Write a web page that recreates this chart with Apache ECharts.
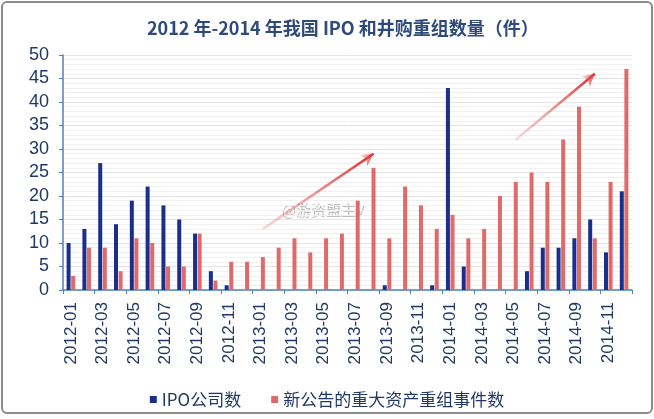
<!DOCTYPE html>
<html>
<head>
<meta charset="utf-8">
<script src="https://cdn.jsdelivr.net/npm/echarts@6/dist/echarts.min.js"></script>
<style>
  html, body { margin: 0; padding: 0; background: #fff; }
  #frame { position: absolute; left: 1px; top: 1px; width: 648px; height: 409px; border: 2px solid #8c8c8c; border-radius: 6px; }
  #chart { width: 654px; height: 419px; position: absolute; left: 0; top: 0; }
</style>
</head>
<body>
<div id="frame"></div>
<div id="chart"></div>
<script>
// 月份（2012-01 ~ 2014-12）
const months = []
for (let y = 2012; y <= 2014; y++) {
  for (let m = 1; m <= 12; m++) months.push(y + '-' + (m < 10 ? '0' + m : m))
}
// IPO公司数
const ipoCount = [
  10, 13, 27, 14, 19, 22, 18, 15, 12, 4, 1, 0,
  0, 0, 0, 0, 0, 0, 0, 0, 1, 0, 0, 1,
  43, 5, 0, 0, 0, 4, 9, 9, 11, 15, 8, 21
]
// 新公告的重大资产重组事件数
const mnaCount = [
  3, 9, 9, 4, 11, 10, 5, 5, 12, 2, 6, 6,
  7, 9, 11, 8, 11, 12, 19, 26, 11, 22, 18, 13,
  16, 11, 13, 20, 23, 25, 23, 32, 39, 11, 23, 47
]
const yTicks = [0, 5, 10, 15, 20, 25, 30, 35, 40, 45, 50]
// 趋势箭头 [起点月份, 起点值, 终点月份, 终点值]
const arrows = [
  ['2013-01', 13, '2013-08', 29],
  ['2014-05', 32, '2014-10', 46]
]

const navy = '#1f3864'
const axisBlue = '#4f81bd'
const chart = echarts.init(document.getElementById('chart'))

const option = {
  textStyle: { fontFamily: 'Liberation Sans, Noto Sans CJK SC, sans-serif' },
  title: {
    text: '2012 年-2014 年我国 IPO 和井购重组数量（件）',
    left: 142,
    top: 14,
    textStyle: { fontSize: 18, fontWeight: 'bold', color: '#2e4a7a', fontFamily: 'Noto Sans CJK SC' }
  },
  legend: {
    bottom: 6,
    left: 'center',
    itemWidth: 7,
    itemHeight: 7,
    itemGap: 30,
    icon: 'rect',
    textStyle: { fontSize: 17, color: navy, fontFamily: 'Noto Sans CJK SC' },
    data: ['IPO公司数', '新公告的重大资产重组事件数']
  },
  grid: { left: 63, right: 22, top: 55, bottom: 129 },
  xAxis: {
    type: 'category',
    data: months,
    axisLine: { lineStyle: { color: axisBlue, width: 1.5 } },
    axisTick: { show: true, length: 4, lineStyle: { color: axisBlue } },
    axisLabel: { rotate: 90, interval: 1, fontSize: 17, color: navy, margin: 12 }
  },
  yAxis: {
    type: 'value',
    min: yTicks[0],
    max: yTicks[yTicks.length - 1],
    interval: 5,
    axisLine: { show: true, lineStyle: { color: axisBlue, width: 1.5 } },
    axisTick: { show: true, length: 4, lineStyle: { color: axisBlue } },
    axisLabel: { fontSize: 18, color: navy, margin: 14 },
    splitLine: { show: true, lineStyle: { color: '#e4e4e4', width: 1 } },
    minorTick: { show: false, splitNumber: 5 },
    minorSplitLine: { show: true, lineStyle: { color: '#f0f0f0', width: 1 } }
  },
  series: [
    {
      name: 'IPO公司数',
      type: 'bar',
      barWidth: 4,
      barGap: '15%',
      itemStyle: { color: '#1a2f8c' },
      data: ipoCount
    },
    {
      name: '新公告的重大资产重组事件数',
      type: 'bar',
      barWidth: 4,
      itemStyle: { color: '#e06a6a' },
      data: mnaCount,
      markLine: {
        silent: true,
        symbol: ['none', 'arrow'],
        symbolSize: [10, 12],
        label: { show: false },
        lineStyle: {
          type: 'solid',
          width: 2.5,
          color: {
            type: 'linear', x: 0, y: 1, x2: 1, y2: 0,
            colorStops: [{ offset: 0, color: 'rgba(230,120,120,0.25)' }, { offset: 1, color: '#e02020' }]
          }
        },
        data: arrows.map(a => [{ coord: [a[0], a[1]] }, { coord: [a[2], a[3]] }])
      }
    }
  ],
  graphic: [
    {
      type: 'text',
      left: 282,
      top: 203,
      silent: true,
      style: { text: '@游资盟主V', fontSize: 15, fill: 'rgba(110,110,110,0.45)', fontFamily: 'Noto Sans CJK SC' }
    }
  ]
}
chart.setOption(option)
</script>
</body>
</html>
